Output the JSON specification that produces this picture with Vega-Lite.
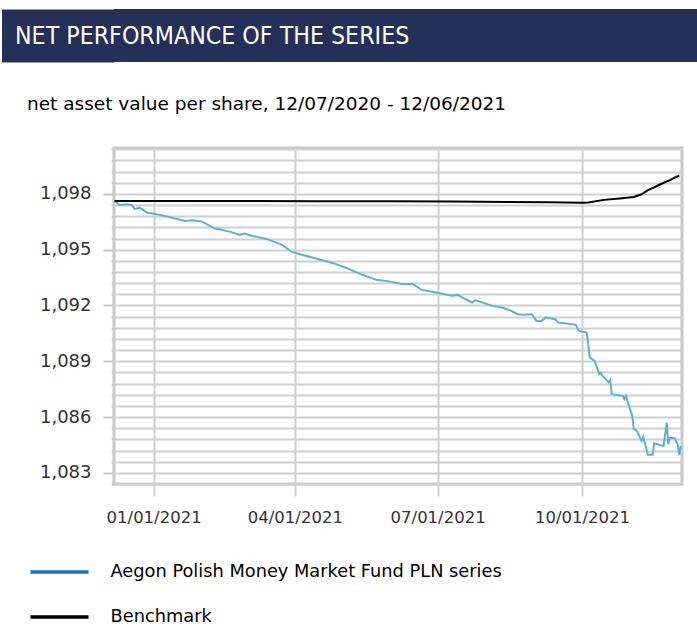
{
  "$schema": "https://vega.github.io/schema/vega-lite/v6.json",
  "padding": {"left": 0, "top": 9, "right": 0, "bottom": 0},
  "background": "white",
  "align": "none",
  "spacing": 31,
  "config": {"font": "DejaVu Sans", "view": {"stroke": null}},
  "vconcat": [
    {
      "width": 585,
      "height": 53,
      "view": {"fill": "#243058", "stroke": null},
      "title": {
        "text": "NET PERFORMANCE OF THE SERIES",
        "anchor": "start",
        "frame": "group",
        "orient": "top",
        "offset": -60,
        "dx": -99,
        "baseline": "alphabetic",
        "font": "Liberation Sans Narrow, DejaVu Sans Condensed, Arial Narrow, sans-serif",
        "fontSize": 24.7,
        "fontWeight": "normal",
        "color": "#ffffff",
        "zindex": 2
      },
      "data": {"values": [{"band": "header"}]},
      "mark": {"type": "rect", "color": "#243058"},
      "encoding": {
        "y": {
          "field": "band",
          "type": "nominal",
          "scale": {"paddingInner": 0, "paddingOuter": 0},
          "axis": {
            "title": null,
            "labels": false,
            "ticks": false,
            "grid": false,
            "domain": true,
            "domainColor": "#243058",
            "domainWidth": 112.5,
            "domainCap": "butt",
            "offset": 56.25,
            "zindex": 0
          }
        }
      }
    },
    {
      "width": 568,
      "height": 336,
      "view": {"stroke": "#c8c8c8", "strokeWidth": 3},
      "title": {
        "text": "net asset value per share, 12/07/2020 - 12/06/2021",
        "anchor": "start",
        "frame": "group",
        "orient": "top",
        "offset": 12,
        "dx": -87,
        "baseline": "alphabetic",
        "font": "DejaVu Sans",
        "fontSize": 18.5,
        "fontWeight": "normal",
        "color": "#000000"
      },
      "data": {
        "values": [
          {"date": "2020-12-08T00:00:00", "value": 1.09757, "series": "Aegon Polish Money Market Fund PLN series"},
          {"date": "2020-12-10T00:00:00", "value": 1.09741, "series": "Aegon Polish Money Market Fund PLN series"},
          {"date": "2020-12-15T00:00:00", "value": 1.09745, "series": "Aegon Polish Money Market Fund PLN series"},
          {"date": "2020-12-18T00:00:00", "value": 1.09741, "series": "Aegon Polish Money Market Fund PLN series"},
          {"date": "2020-12-20T00:00:00", "value": 1.09718, "series": "Aegon Polish Money Market Fund PLN series"},
          {"date": "2020-12-23T00:00:00", "value": 1.09726, "series": "Aegon Polish Money Market Fund PLN series"},
          {"date": "2020-12-28T00:00:00", "value": 1.09699, "series": "Aegon Polish Money Market Fund PLN series"},
          {"date": "2021-01-01T00:00:00", "value": 1.09694, "series": "Aegon Polish Money Market Fund PLN series"},
          {"date": "2021-01-11T00:00:00", "value": 1.09676, "series": "Aegon Polish Money Market Fund PLN series"},
          {"date": "2021-01-21T00:00:00", "value": 1.09655, "series": "Aegon Polish Money Market Fund PLN series"},
          {"date": "2021-01-26T00:00:00", "value": 1.09659, "series": "Aegon Polish Money Market Fund PLN series"},
          {"date": "2021-02-01T00:00:00", "value": 1.09651, "series": "Aegon Polish Money Market Fund PLN series"},
          {"date": "2021-02-07T00:00:00", "value": 1.09623, "series": "Aegon Polish Money Market Fund PLN series"},
          {"date": "2021-02-09T00:00:00", "value": 1.09614, "series": "Aegon Polish Money Market Fund PLN series"},
          {"date": "2021-02-12T00:00:00", "value": 1.0961, "series": "Aegon Polish Money Market Fund PLN series"},
          {"date": "2021-02-19T00:00:00", "value": 1.09596, "series": "Aegon Polish Money Market Fund PLN series"},
          {"date": "2021-02-25T00:00:00", "value": 1.0958, "series": "Aegon Polish Money Market Fund PLN series"},
          {"date": "2021-02-28T00:00:00", "value": 1.09587, "series": "Aegon Polish Money Market Fund PLN series"},
          {"date": "2021-03-05T00:00:00", "value": 1.09574, "series": "Aegon Polish Money Market Fund PLN series"},
          {"date": "2021-03-14T00:00:00", "value": 1.09558, "series": "Aegon Polish Money Market Fund PLN series"},
          {"date": "2021-03-24T00:00:00", "value": 1.09526, "series": "Aegon Polish Money Market Fund PLN series"},
          {"date": "2021-03-30T00:00:00", "value": 1.09488, "series": "Aegon Polish Money Market Fund PLN series"},
          {"date": "2021-04-06T00:00:00", "value": 1.09472, "series": "Aegon Polish Money Market Fund PLN series"},
          {"date": "2021-04-18T00:00:00", "value": 1.09445, "series": "Aegon Polish Money Market Fund PLN series"},
          {"date": "2021-04-25T00:00:00", "value": 1.09429, "series": "Aegon Polish Money Market Fund PLN series"},
          {"date": "2021-05-04T00:00:00", "value": 1.09402, "series": "Aegon Polish Money Market Fund PLN series"},
          {"date": "2021-05-14T00:00:00", "value": 1.09365, "series": "Aegon Polish Money Market Fund PLN series"},
          {"date": "2021-05-23T00:00:00", "value": 1.09338, "series": "Aegon Polish Money Market Fund PLN series"},
          {"date": "2021-06-02T00:00:00", "value": 1.09327, "series": "Aegon Polish Money Market Fund PLN series"},
          {"date": "2021-06-08T00:00:00", "value": 1.09316, "series": "Aegon Polish Money Market Fund PLN series"},
          {"date": "2021-06-15T00:00:00", "value": 1.09316, "series": "Aegon Polish Money Market Fund PLN series"},
          {"date": "2021-06-21T00:00:00", "value": 1.09284, "series": "Aegon Polish Money Market Fund PLN series"},
          {"date": "2021-07-01T00:00:00", "value": 1.09268, "series": "Aegon Polish Money Market Fund PLN series"},
          {"date": "2021-07-10T00:00:00", "value": 1.09252, "series": "Aegon Polish Money Market Fund PLN series"},
          {"date": "2021-07-14T00:00:00", "value": 1.09257, "series": "Aegon Polish Money Market Fund PLN series"},
          {"date": "2021-07-17T00:00:00", "value": 1.09241, "series": "Aegon Polish Money Market Fund PLN series"},
          {"date": "2021-07-23T00:00:00", "value": 1.09216, "series": "Aegon Polish Money Market Fund PLN series"},
          {"date": "2021-07-25T00:00:00", "value": 1.09229, "series": "Aegon Polish Money Market Fund PLN series"},
          {"date": "2021-08-05T00:00:00", "value": 1.09198, "series": "Aegon Polish Money Market Fund PLN series"},
          {"date": "2021-08-11T00:00:00", "value": 1.09189, "series": "Aegon Polish Money Market Fund PLN series"},
          {"date": "2021-08-17T00:00:00", "value": 1.09171, "series": "Aegon Polish Money Market Fund PLN series"},
          {"date": "2021-08-21T00:00:00", "value": 1.09153, "series": "Aegon Polish Money Market Fund PLN series"},
          {"date": "2021-08-24T00:00:00", "value": 1.0915, "series": "Aegon Polish Money Market Fund PLN series"},
          {"date": "2021-08-30T00:00:00", "value": 1.09153, "series": "Aegon Polish Money Market Fund PLN series"},
          {"date": "2021-09-02T00:00:00", "value": 1.09117, "series": "Aegon Polish Money Market Fund PLN series"},
          {"date": "2021-09-05T00:00:00", "value": 1.09117, "series": "Aegon Polish Money Market Fund PLN series"},
          {"date": "2021-09-08T00:00:00", "value": 1.09135, "series": "Aegon Polish Money Market Fund PLN series"},
          {"date": "2021-09-14T00:00:00", "value": 1.09126, "series": "Aegon Polish Money Market Fund PLN series"},
          {"date": "2021-09-16T00:00:00", "value": 1.09108, "series": "Aegon Polish Money Market Fund PLN series"},
          {"date": "2021-09-21T00:00:00", "value": 1.09103, "series": "Aegon Polish Money Market Fund PLN series"},
          {"date": "2021-09-27T00:00:00", "value": 1.09096, "series": "Aegon Polish Money Market Fund PLN series"},
          {"date": "2021-09-29T00:00:00", "value": 1.09063, "series": "Aegon Polish Money Market Fund PLN series"},
          {"date": "2021-10-04T00:00:00", "value": 1.09054, "series": "Aegon Polish Money Market Fund PLN series"},
          {"date": "2021-10-05T00:00:00", "value": 1.08992, "series": "Aegon Polish Money Market Fund PLN series"},
          {"date": "2021-10-06T00:00:00", "value": 1.0892, "series": "Aegon Polish Money Market Fund PLN series"},
          {"date": "2021-10-09T00:00:00", "value": 1.08902, "series": "Aegon Polish Money Market Fund PLN series"},
          {"date": "2021-10-11T00:00:00", "value": 1.08858, "series": "Aegon Polish Money Market Fund PLN series"},
          {"date": "2021-10-12T00:00:00", "value": 1.08832, "series": "Aegon Polish Money Market Fund PLN series"},
          {"date": "2021-10-13T00:00:00", "value": 1.08839, "series": "Aegon Polish Money Market Fund PLN series"},
          {"date": "2021-10-14T00:00:00", "value": 1.08822, "series": "Aegon Polish Money Market Fund PLN series"},
          {"date": "2021-10-18T00:00:00", "value": 1.08786, "series": "Aegon Polish Money Market Fund PLN series"},
          {"date": "2021-10-19T00:00:00", "value": 1.08799, "series": "Aegon Polish Money Market Fund PLN series"},
          {"date": "2021-10-20T00:00:00", "value": 1.08723, "series": "Aegon Polish Money Market Fund PLN series"},
          {"date": "2021-10-27T00:00:00", "value": 1.08714, "series": "Aegon Polish Money Market Fund PLN series"},
          {"date": "2021-10-28T00:00:00", "value": 1.08696, "series": "Aegon Polish Money Market Fund PLN series"},
          {"date": "2021-10-29T00:00:00", "value": 1.08714, "series": "Aegon Polish Money Market Fund PLN series"},
          {"date": "2021-11-02T00:00:00", "value": 1.08607, "series": "Aegon Polish Money Market Fund PLN series"},
          {"date": "2021-11-03T00:00:00", "value": 1.08535, "series": "Aegon Polish Money Market Fund PLN series"},
          {"date": "2021-11-05T00:00:00", "value": 1.08526, "series": "Aegon Polish Money Market Fund PLN series"},
          {"date": "2021-11-08T00:00:00", "value": 1.08472, "series": "Aegon Polish Money Market Fund PLN series"},
          {"date": "2021-11-09T00:00:00", "value": 1.08494, "series": "Aegon Polish Money Market Fund PLN series"},
          {"date": "2021-11-10T00:00:00", "value": 1.08463, "series": "Aegon Polish Money Market Fund PLN series"},
          {"date": "2021-11-12T00:00:00", "value": 1.08397, "series": "Aegon Polish Money Market Fund PLN series"},
          {"date": "2021-11-15T00:00:00", "value": 1.08397, "series": "Aegon Polish Money Market Fund PLN series"},
          {"date": "2021-11-16T00:00:00", "value": 1.08458, "series": "Aegon Polish Money Market Fund PLN series"},
          {"date": "2021-11-18T00:00:00", "value": 1.08454, "series": "Aegon Polish Money Market Fund PLN series"},
          {"date": "2021-11-22T00:00:00", "value": 1.08445, "series": "Aegon Polish Money Market Fund PLN series"},
          {"date": "2021-11-24T00:00:00", "value": 1.0857, "series": "Aegon Polish Money Market Fund PLN series"},
          {"date": "2021-11-25T00:00:00", "value": 1.08454, "series": "Aegon Polish Money Market Fund PLN series"},
          {"date": "2021-11-26T00:00:00", "value": 1.08487, "series": "Aegon Polish Money Market Fund PLN series"},
          {"date": "2021-11-29T00:00:00", "value": 1.08487, "series": "Aegon Polish Money Market Fund PLN series"},
          {"date": "2021-12-01T00:00:00", "value": 1.08454, "series": "Aegon Polish Money Market Fund PLN series"},
          {"date": "2021-12-02T00:00:00", "value": 1.08397, "series": "Aegon Polish Money Market Fund PLN series"},
          {"date": "2021-12-03T00:00:00", "value": 1.08445, "series": "Aegon Polish Money Market Fund PLN series"},
          {"date": "2020-12-07T00:00:00", "value": 1.09762, "series": "Benchmark"},
          {"date": "2021-01-15T00:00:00", "value": 1.09762, "series": "Benchmark"},
          {"date": "2021-03-01T00:00:00", "value": 1.09762, "series": "Benchmark"},
          {"date": "2021-04-15T00:00:00", "value": 1.09761, "series": "Benchmark"},
          {"date": "2021-06-01T00:00:00", "value": 1.0976, "series": "Benchmark"},
          {"date": "2021-07-10T00:00:00", "value": 1.09759, "series": "Benchmark"},
          {"date": "2021-08-15T00:00:00", "value": 1.09757, "series": "Benchmark"},
          {"date": "2021-09-10T00:00:00", "value": 1.09755, "series": "Benchmark"},
          {"date": "2021-10-01T00:00:00", "value": 1.09753, "series": "Benchmark"},
          {"date": "2021-10-05T00:00:00", "value": 1.09754, "series": "Benchmark"},
          {"date": "2021-10-15T00:00:00", "value": 1.09768, "series": "Benchmark"},
          {"date": "2021-10-25T00:00:00", "value": 1.09776, "series": "Benchmark"},
          {"date": "2021-11-03T00:00:00", "value": 1.09784, "series": "Benchmark"},
          {"date": "2021-11-08T00:00:00", "value": 1.09798, "series": "Benchmark"},
          {"date": "2021-11-12T00:00:00", "value": 1.0982, "series": "Benchmark"},
          {"date": "2021-11-16T00:00:00", "value": 1.09835, "series": "Benchmark"},
          {"date": "2021-11-20T00:00:00", "value": 1.09852, "series": "Benchmark"},
          {"date": "2021-11-26T00:00:00", "value": 1.09874, "series": "Benchmark"},
          {"date": "2021-12-02T00:00:00", "value": 1.099, "series": "Benchmark"}
        ]
      },
      "encoding": {
        "x": {
          "field": "date",
          "type": "temporal",
          "scale": {"domain": ["2020-12-06T18:00:00", "2021-12-03T18:00:00"], "nice": false},
          "axis": {
            "title": null,
            "values": [
              {"year": 2021, "month": 1, "date": 1},
              {"year": 2021, "month": 4, "date": 1},
              {"year": 2021, "month": 7, "date": 1},
              {"year": 2021, "month": 10, "date": 1}
            ],
            "format": "%m/%d/%Y",
            "domain": false,
            "grid": true,
            "gridColor": "#d0d0d0",
            "gridWidth": 2,
            "tickColor": "#d0d0d0",
            "tickWidth": 2,
            "tickSize": 12,
            "labelPadding": 13,
            "labelFont": "DejaVu Sans",
            "labelFontSize": 16.5,
            "labelColor": "#333333"
          }
        },
        "y": {
          "field": "value",
          "type": "quantitative",
          "scale": {"domain": [1.0824, 1.10047], "zero": false, "nice": false},
          "axis": {
            "title": null,
            "values": [1.0824, 1.083, 1.0836, 1.0842, 1.0848, 1.0854, 1.086, 1.0866, 1.0872, 1.0878, 1.0884, 1.089, 1.0896, 1.0902, 1.0908, 1.0914, 1.092, 1.0926, 1.0932, 1.0938, 1.0944, 1.095, 1.0956, 1.0962, 1.0968, 1.0974, 1.098, 1.0986, 1.0992, 1.0998, 1.1004],
            "labelExpr": "(round(datum.value*10000) - 10830) % 30 == 0 ? replace(format(datum.value, '.3f'), '.', ',') : ''",
            "domain": false,
            "grid": true,
            "gridColor": "#d0d0d0",
            "gridWidth": 2,
            "tickColor": "#c8c8c8",
            "tickWidth": 2,
            "tickSize": {"condition": {"test": "(round(datum.value*10000) - 10830) % 30 == 0", "value": 11}, "value": 3},
            "labelPadding": 12,
            "labelFont": "DejaVu Sans",
            "labelFontSize": 18,
            "labelColor": "#333333",
            "minExtent": 112,
            "labelBound": false,
            "labelOverlap": false
          }
        }
      },
      "layer": [
        {
          "mark": {"type": "line", "strokeWidth": 2, "interpolate": "linear"},
          "encoding": {
            "color": {
              "field": "series",
              "type": "nominal",
              "scale": {
                "domain": ["Aegon Polish Money Market Fund PLN series", "Benchmark"],
                "range": ["#5ab4cf", "#000000"]
              },
              "legend": null
            }
          }
        },
        {
          "mark": {"type": "line", "strokeWidth": 2, "opacity": 0},
          "encoding": {
            "color": {
              "field": "series",
              "type": "nominal",
              "scale": {
                "domain": ["Aegon Polish Money Market Fund PLN series", "Benchmark"],
                "range": ["#1a72bf", "#000000"]
              },
              "legend": {
                "title": null,
                "orient": "none",
                "legendX": -85.5,
                "legendY": 414,
                "direction": "vertical",
                "padding": 0,
                "symbolType": "stroke",
                "symbolSize": 3364,
                "symbolStrokeWidth": 3.5,
                "symbolOpacity": 1,
                "clipHeight": 20,
                "rowPadding": 25,
                "labelOffset": 20,
                "labelFont": "DejaVu Sans",
                "labelFontSize": 17.8,
                "labelColor": "#000000",
                "labelLimit": 700
              }
            }
          }
        }
      ],
      "resolve": {"scale": {"color": "independent"}}
    }
  ]
}
